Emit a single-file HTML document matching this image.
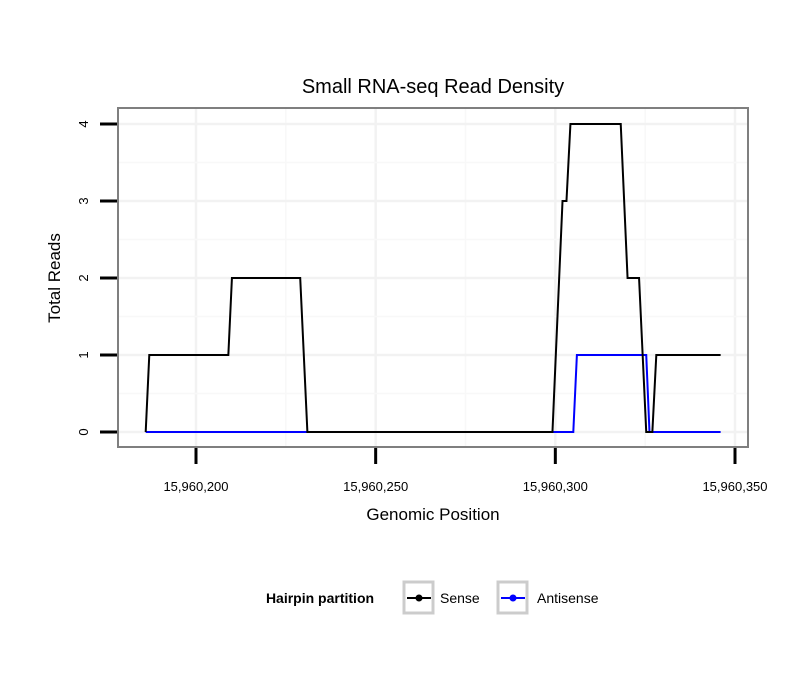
<!DOCTYPE html>
<html><head><meta charset="utf-8"><style>
body{margin:0;background:#fff;}
svg text{font-family:"Liberation Sans",sans-serif;}
</style></head><body>
<svg id="c" width="810" height="690" xmlns="http://www.w3.org/2000/svg">
<rect width="810" height="690" fill="#fff"/>
<text x="433" y="93" font-size="20" text-anchor="middle">Small RNA-seq Read Density</text>
<g id="grid"></g>
<g id="series"></g>
<rect x="118" y="108" width="630" height="339" fill="none" stroke="#7f7f7f" stroke-width="2"/>
<g id="axes"></g>
<text x="433" y="520" font-size="17" text-anchor="middle">Genomic Position</text>
<text transform="translate(60,278) rotate(-90)" font-size="17" text-anchor="middle">Total Reads</text>
<g>
<text x="320" y="603" font-size="14" font-weight="bold" text-anchor="middle">Hairpin partition</text>
<g>
<rect x="404" y="582" width="29" height="31" fill="#fff" stroke="#ccc" stroke-width="3"/>
<line x1="407" y1="598" x2="431" y2="598" stroke="#000" stroke-width="2"/><circle cx="419" cy="598" r="3.5" fill="#000"/>
<text x="440" y="603" font-size="14">Sense</text></g>
<g>
<rect x="498" y="582" width="29" height="31" fill="#fff" stroke="#ccc" stroke-width="3"/>
<line x1="501" y1="598" x2="525" y2="598" stroke="#00f" stroke-width="2"/><circle cx="513" cy="598" r="3.5" fill="#00f"/>
<text x="537" y="603" font-size="14">Antisense</text></g>
</g>
</svg>
<script>
const xTicks=[15960200,15960250,15960300,15960350];
const xTickLabels=["15,960,200","15,960,250","15,960,300","15,960,350"];
const yTicks=[0,1,2,3,4];
const senseX=[15960186,15960187,15960209,15960210,15960229,15960231,15960299.2,15960302,15960303.1,15960304.2,15960318.2,15960320.1,15960323.3,15960325.3,15960327,15960328.1,15960346];
const senseY=[0,1,1,2,2,0,0,3,3,4,4,2,2,0,0,1,1];
const antiX=[15960186,15960305,15960306,15960325.3,15960326.2,15960346];
const antiY=[0,0,1,1,0,0];
const NS='http://www.w3.org/2000/svg';
const sx=v=>196+(v-15960200)*(735-196)/150;
const sy=v=>432-v*77;
function mk(t,a,p){const e=document.createElementNS(NS,t);for(const k in a)e.setAttribute(k,a[k]);p.appendChild(e);return e;}
const grid=document.getElementById('grid'),axes=document.getElementById('axes'),ser=document.getElementById('series');
mk('rect',{x:118,y:108,width:630,height:339,fill:'#fff'},grid);
for(let i=0;i<xTicks.length;i++){
 for(const v of [xTicks[i],xTicks[i]-25]){const X=sx(v);if(X<118||X>748)continue;
  const g=mk('line',{x1:X,x2:X,y1:108,y2:447,stroke:v===xTicks[i]?'#f2f2f2':'#f8f8f8','stroke-width':v===xTicks[i]?2.5:1.5},grid);
  }
 const X=sx(xTicks[i]);
 const t=mk('line',{x1:X,x2:X,y1:448,y2:464,stroke:'#000','stroke-width':3},axes);
 
 const l=mk('text',{x:X,y:491,'font-size':13,'text-anchor':'middle'},axes);l.textContent=xTickLabels[i];
 
}
for(const v of yTicks){
 for(const w of [v,v+0.5]){const Y=sy(w);if(Y<108)continue;
  const g=mk('line',{x1:118,x2:748,y1:Y,y2:Y,stroke:w===v?'#f2f2f2':'#f8f8f8','stroke-width':w===v?2.5:1.5},grid);
  }
 const Y=sy(v);
 const t=mk('line',{x1:100,x2:117,y1:Y,y2:Y,stroke:'#000','stroke-width':3},axes);
 
 const l=mk('text',{transform:`translate(88,${Y}) rotate(-90)`,'font-size':13,'text-anchor':'middle'},axes);l.textContent=v;
 
}
function line(xs,ys,c,name){const p=mk('polyline',{points:xs.map((x,i)=>sx(x)+','+sy(ys[i])).join(' '),fill:'none',stroke:c,'stroke-width':2},ser);
 }
line(antiX,antiY,'#00f','antisense-line');
line(senseX,senseY,'#000','sense-line');
</script>
</body></html>
